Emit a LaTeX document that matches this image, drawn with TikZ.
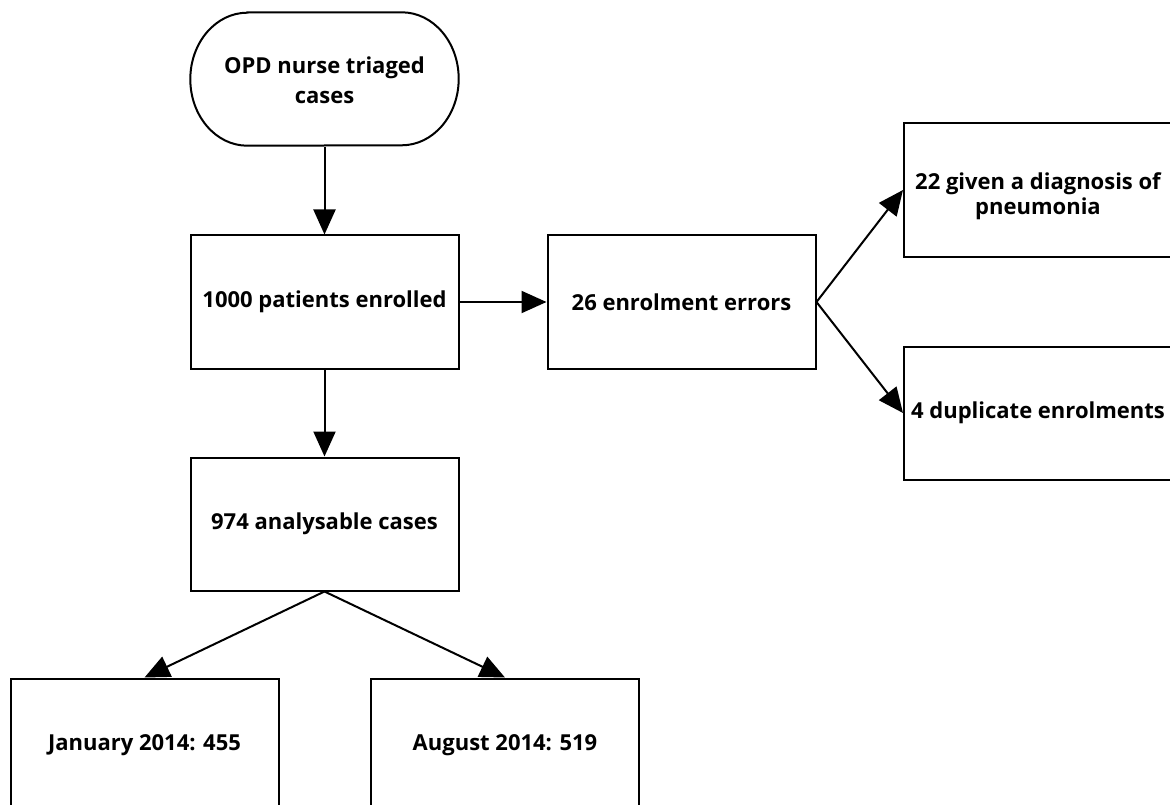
\documentclass[tikz,border=0pt]{standalone}
\usepackage{fontspec}
\setmainfont{Open Sans}
\usetikzlibrary{arrows.meta}
\begin{document}
\begin{tikzpicture}[x=1pt,y=-1pt,
  box/.style={draw=none,rectangle,inner sep=0pt,minimum width=268pt,minimum height=133pt,
    align=center,font=\fontsize{22}{30}\selectfont\bfseries},
  boxd/.style={box,draw=black,line width=2pt},
  lbl/.style={inner sep=0pt,align=center,font=\fontsize{22}{25}\selectfont\bfseries},
  arr/.style={line width=2pt,-{Triangle[length=25pt,width=22pt]}}]
\fill[white] (0,0) rectangle (1170,805);
\clip (0,0) rectangle (1170,805);
\node[box] (s) at (324.5,80) {OPD nurse triaged\\cases};
\draw[line width=2pt] ([xshift=57pt,yshift=1pt]s.north west) -- ([xshift=-57pt,yshift=1pt]s.north east)
  arc[start angle=90,end angle=-90,x radius=57pt,y radius=66.5pt]
  -- ([xshift=57pt,yshift=1pt]s.south west)
  arc[start angle=270,end angle=90,x radius=57pt,y radius=66.5pt] -- cycle;
\node[boxd] (a) at (324.5,302) {1000 patients enrolled};
\node[boxd] (e) at (681.5,302) {26 enrolment errors};
\node[boxd] (d22) at (1038,190) {};
\node[lbl] (d22t) at ([yshift=-6pt]d22.center) {22 given a diagnosis of\\pneumonia};
\node[boxd] (d4) at (1038,413) {4 duplicate enrolments};
\node[boxd] (c) at (324.5,524) {974 analysable cases};
\node[boxd] (j) at (144.5,745) {January 2014: 455};
\node[boxd] (g) at (505,745) {August 2014: 519};
\draw[arr] (s.south) -- (a.north);
\draw[arr] (a.east) -- (e.west);
\draw[arr] (e.east) -- (d22.west);
\draw[arr] (e.east) -- (d4.west);
\draw[arr] (a.south) -- (c.north);
\draw[arr] (c.south) -- (j.north);
\draw[arr] (c.south) -- (g.north);
\end{tikzpicture}
\end{document}
